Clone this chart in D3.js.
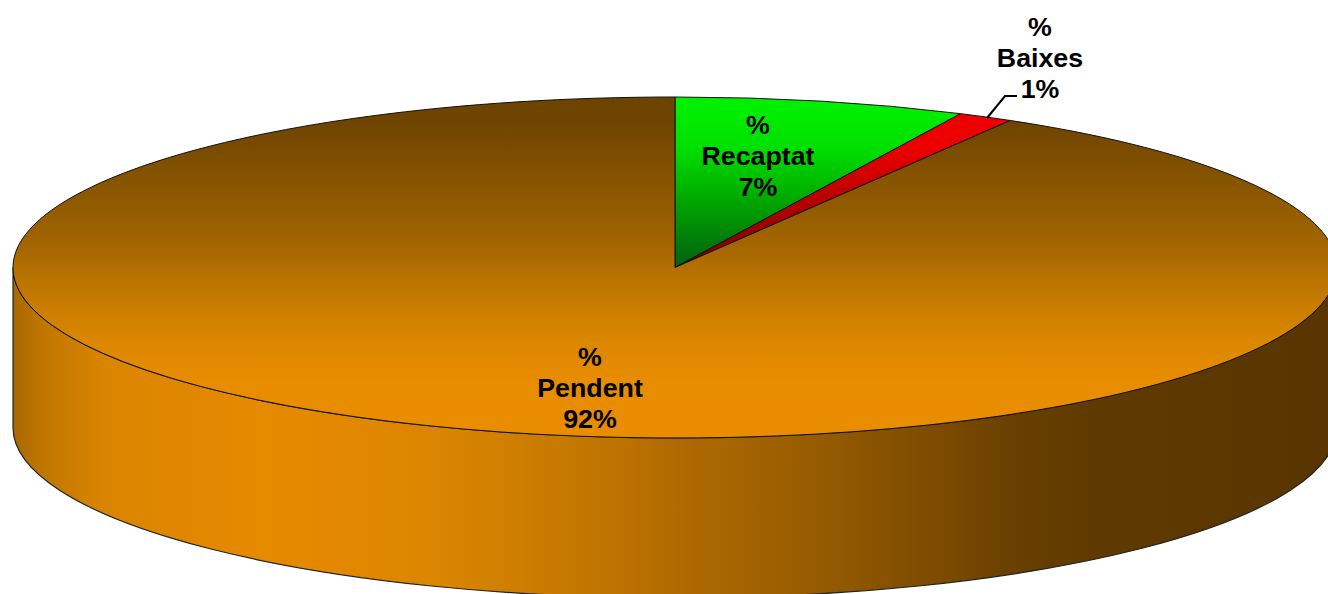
<!DOCTYPE html>
<html><head><meta charset="utf-8">
<script src="https://cdn.jsdelivr.net/npm/d3@7"></script>
<style>html,body{margin:0;padding:0;background:#fff;overflow:hidden}svg{display:block}
text{font-family:"Liberation Sans",Arial,sans-serif;font-weight:bold;font-size:26px;fill:#000;text-anchor:middle}</style>
</head><body><svg id="c" width="1328" height="594"></svg>
<script>
const categories = ["% Recaptat", "% Baixes", "% Pendent"];
const values = [7.1, 1.35, 91.55];
const percentLabels = ["7%", "1%", "92%"];

const W = 1328, H = 594, cx = 675, cy = 267.5, rx = 662, ry = 170.5, depth = 160;
const svg = d3.select("#c").attr("viewBox", [0, 0, W, H]);
const defs = svg.append("defs");

function grad(id, stops, x1, y1, x2, y2) {
  const g = defs.append("linearGradient").attr("id", id).attr("gradientUnits", "userSpaceOnUse")
    .attr("x1", x1).attr("y1", y1).attr("x2", x2).attr("y2", y2);
  stops.forEach(([o, c]) => g.append("stop").attr("offset", o).attr("stop-color", c));
}
// Face gradients live in the squashed group's coordinates, where the radius is rx
grad("gPend", [[0, "#6c4300"], [0.08, "#6f4500"], [0.30, "#8f5900"], [0.42, "#a16400"], [0.537, "#bb7400"], [0.71, "#da8700"], [0.83, "#e88c00"], [1, "#e98c00"]], 0, -rx, 0, rx);
grad("gRec", [[0, "#00f200"], [0.3, "#00e000"], [0.6, "#00a800"], [1, "#00600f"]], 0, -rx, 0, 0);
grad("gBai", [[0, "#f20000"], [0.3, "#ec0000"], [0.65, "#b00000"], [1, "#7a0000"]], 0, -rx, 0, 0);
const sideStops = [[13, "#a86800"], [40, "#bf7500"], [100, "#d98400"], [260, "#e68a00"], [350, "#e28800"], [440, "#da8500"], [566, "#c67900"], [692, "#ad6900"], [819, "#955b00"], [945, "#7a4a00"], [1029, "#653e00"], [1100, "#5f3a00"], [1337, "#583500"]];
const sideOffset = d3.scaleLinear().domain([cx - rx, cx + rx]).range([0, 1]);
grad("gSide", sideStops.map(([x, c]) => [sideOffset(x), c]), cx - rx, 0, cx + rx, 0);

const fills = ["url(#gRec)", "url(#gBai)", "url(#gPend)"];

// Side wall of the disc (lower half of the ellipse extruded downwards)
svg.append("path")
  .attr("d", `M${cx - rx},${cy}A${rx},${ry} 0 0 0 ${cx + rx},${cy}L${cx + rx},${cy + depth}A${rx},${ry} 0 0 1 ${cx - rx},${cy + depth}Z`)
  .attr("fill", "url(#gSide)").attr("stroke", "#222").attr("stroke-width", 1.2);

// Top face: slices from d3.pie, squashed to the ellipse
const pie = d3.pie().sort(null).value(d => d)(values);
const arc = d3.arc().innerRadius(0).outerRadius(rx);
svg.append("g").attr("transform", `translate(${cx},${cy}) scale(1,${ry / rx})`)
  .selectAll("path").data(pie).join("path")
  .attr("d", arc)
  .attr("fill", (d, i) => fills[i])
  .attr("stroke", "#111").attr("stroke-width", 1).attr("vector-effect", "non-scaling-stroke");

// Leader line for the small slice
svg.append("path").attr("d", d3.line()([[987, 118], [1005, 96], [1017, 96]]))
  .attr("fill", "none").attr("stroke", "#000").attr("stroke-width", 2);

// Labels
const labelPos = [[758, 134], [1040, 36], [590, 366]];
const lineGap = 31;
const stretch = 1.03;
categories.forEach((c, i) => {
  const [a, b] = c.split(" ");
  const lines = [a, b, percentLabels[i]];
  const g = svg.append("g").attr("transform", `translate(${labelPos[i][0]},${labelPos[i][1]}) scale(${stretch},1)`);
  lines.forEach((t, j) => g.append("text").attr("y", j * lineGap).text(t));
});
</script></body></html>
